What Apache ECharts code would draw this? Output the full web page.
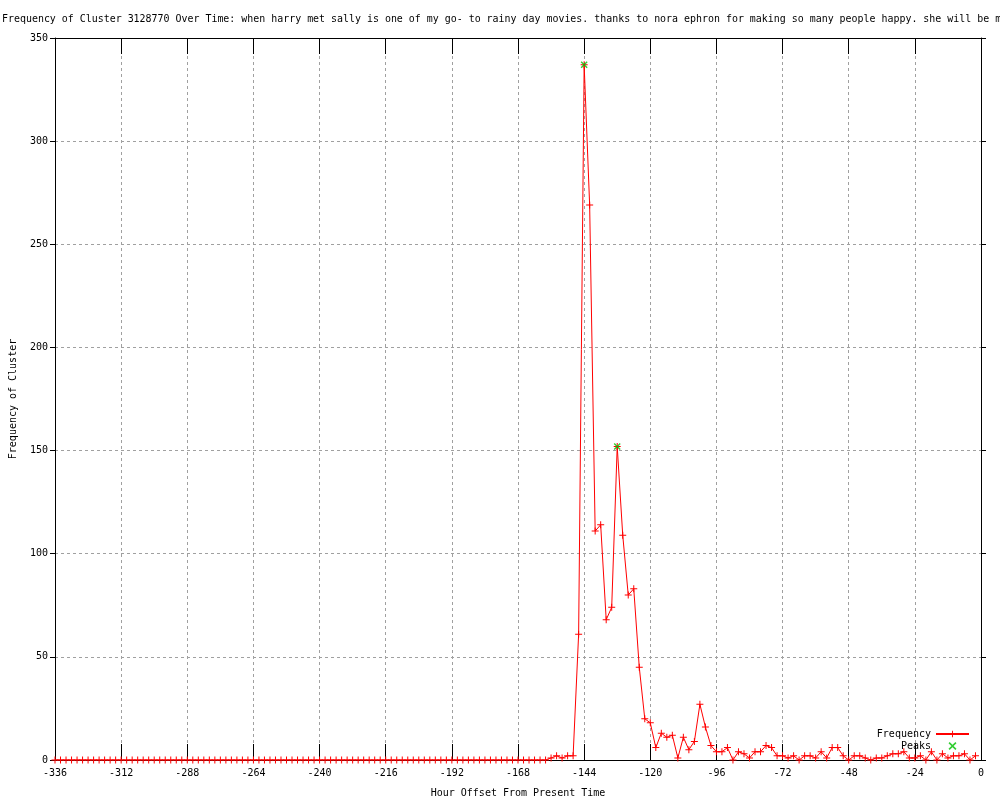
<!DOCTYPE html>
<html><head><meta charset="utf-8">
<script src="https://cdn.jsdelivr.net/npm/echarts@6/dist/echarts.min.js"></script>
<style>html,body{margin:0;padding:0;background:#fff;}#c{width:1000px;height:800px;}</style>
</head><body><div id="c"></div>
<script>
const titleText = "Frequency of Cluster 3128770 Over Time: when harry met sally is one of my go- to rainy day movies. thanks to nora ephron for making so many people happy. she will be missed.";
const xAxisName = "Hour Offset From Present Time";
const yAxisName = "Frequency of Cluster";
const seriesNames = ["Frequency", "Peaks"];

const hours = [
-336,-334,-332,-330,-328,-326,-324,-322,-320,-318,
-316,-314,-312,-310,-308,-306,-304,-302,-300,-298,
-296,-294,-292,-290,-288,-286,-284,-282,-280,-278,
-276,-274,-272,-270,-268,-266,-264,-262,-260,-258,
-256,-254,-252,-250,-248,-246,-244,-242,-240,-238,
-236,-234,-232,-230,-228,-226,-224,-222,-220,-218,
-216,-214,-212,-210,-208,-206,-204,-202,-200,-198,
-196,-194,-192,-190,-188,-186,-184,-182,-180,-178,
-176,-174,-172,-170,-168,-166,-164,-162,-160,-158,
-156,-154,-152,-150,-148,-146,-144,-142,-140,-138,
-136,-134,-132,-130,-128,-126,-124,-122,-120,-118,
-116,-114,-112,-110,-108,-106,-104,-102,-100,-98,
-96,-94,-92,-90,-88,-86,-84,-82,-80,-78,
-76,-74,-72,-70,-68,-66,-64,-62,-60,-58,
-56,-54,-52,-50,-48,-46,-44,-42,-40,-38,
-36,-34,-32,-30,-28,-26,-24,-22,-20,-18,
-16,-14,-12,-10,-8,-6,-4,-2
];
const frequency = [
0,0,0,0,0,0,0,0,0,0,
0,0,0,0,0,0,0,0,0,0,
0,0,0,0,0,0,0,0,0,0,
0,0,0,0,0,0,0,0,0,0,
0,0,0,0,0,0,0,0,0,0,
0,0,0,0,0,0,0,0,0,0,
0,0,0,0,0,0,0,0,0,0,
0,0,0,0,0,0,0,0,0,0,
0,0,0,0,0,0,0,0,0,0,
1,2,1,2,2,61,337,269,111,114,
68,74,152,109,80,83,45,20,18,6,
13,11,12,1,11,5,9,27,16,7,
4,4,6,0,4,3,1,4,4,7,
6,2,2,1,2,0,2,2,1,4,
1,6,6,2,0,2,2,1,0,1,
1,2,3,3,4,1,1,2,0,4,
0,3,1,2,2,3,0,2
];
const peakHours = [-144, -132];
const peakValues = [337, 152];

const xMin = -336, xMax = 0, xStep = 24;
const yMin = 0, yMax = 350, yStep = 50;

const FONT = "'DejaVu Sans Mono', monospace";
const plusPath = 'path://M3,0H4V3H7V4H4V7H3V4H0V3H3Z';
const xPath = 'path://M0,1L1,0L3.5,2.5L6,0L7,1L4.5,3.5L7,6L6,7L3.5,4.5L1,7L0,6L2.5,3.5Z';

const freqData = hours.map((h, i) => [h, frequency[i]]);
const peakData = peakHours.map((h, i) => [h, peakValues[i]]);

const chart = echarts.init(document.getElementById('c'), null, {renderer: 'canvas'});
const gridLine = {show: true, lineStyle: {color: '#a0a0a0', type: [3, 3], width: 1}};
const xTickStyle = {show: true, inside: true, length: 16, lineStyle: {color: '#000', width: 1}};
const yTickStyle = {show: true, inside: false, length: 5, lineStyle: {color: '#000', width: 1}};
const axisLineStyle = {show: true, onZero: false, lineStyle: {color: '#000', width: 1}};
const labelStyle = {fontFamily: FONT, fontSize: 10, color: '#000'};

chart.setOption({
  animation: false,
  backgroundColor: '#fff',
  title: {
    text: titleText, left: 2, top: 14, padding: 0,
    textStyle: {fontFamily: FONT, fontSize: 9.95, fontWeight: 'normal', color: '#000'}
  },
  grid: {left: 55, right: 19, top: 38, bottom: 40, containLabel: false, outerBoundsMode: 'none'},
  legend: {
    orient: 'vertical', right: 30, top: 729, padding: 0,
    align: 'right', itemWidth: 33, itemHeight: 8, itemGap: 2,
    textStyle: {fontFamily: FONT, fontSize: 10, color: '#000'},
    data: [{name: seriesNames[0]}, {name: seriesNames[1], icon: xPath}]
  },
  xAxis: [{
    type: 'value', position: 'bottom', min: xMin, max: xMax, interval: xStep,
    name: xAxisName, nameLocation: 'middle', nameGap: 28,
    nameTextStyle: {fontFamily: FONT, fontSize: 10, color: '#000'},
    axisLine: axisLineStyle, axisTick: xTickStyle,
    axisLabel: Object.assign({margin: 8}, labelStyle),
    splitLine: gridLine
  }, {
    type: 'value', position: 'top', min: xMin, max: xMax, interval: xStep,
    axisLine: axisLineStyle, axisTick: xTickStyle,
    axisLabel: {show: false}, splitLine: {show: false}
  }],
  yAxis: [{
    type: 'value', position: 'left', min: yMin, max: yMax, interval: yStep,
    name: yAxisName, nameLocation: 'middle', nameGap: 37, nameRotate: 90,
    nameTextStyle: {fontFamily: FONT, fontSize: 10, color: '#000'},
    axisLine: axisLineStyle, axisTick: yTickStyle,
    axisLabel: Object.assign({margin: 7}, labelStyle),
    splitLine: gridLine
  }, {
    type: 'value', position: 'right', min: yMin, max: yMax, interval: yStep,
    axisLine: axisLineStyle, axisTick: yTickStyle,
    axisLabel: {show: false}, splitLine: {show: false}
  }],
  series: [{
    name: seriesNames[0], type: 'line', data: freqData,
    xAxisIndex: 0, yAxisIndex: 0,
    symbol: plusPath, symbolSize: 7, showAllSymbol: true,
    lineStyle: {color: '#ff0000', width: 1},
    itemStyle: {color: '#ff0000'},
    z: 3
  }, {
    name: seriesNames[1], type: 'scatter', data: peakData,
    xAxisIndex: 0, yAxisIndex: 0,
    symbol: xPath, symbolSize: 7,
    itemStyle: {color: '#00c000'},
    z: 4
  }]
});
</script>
</body></html>
